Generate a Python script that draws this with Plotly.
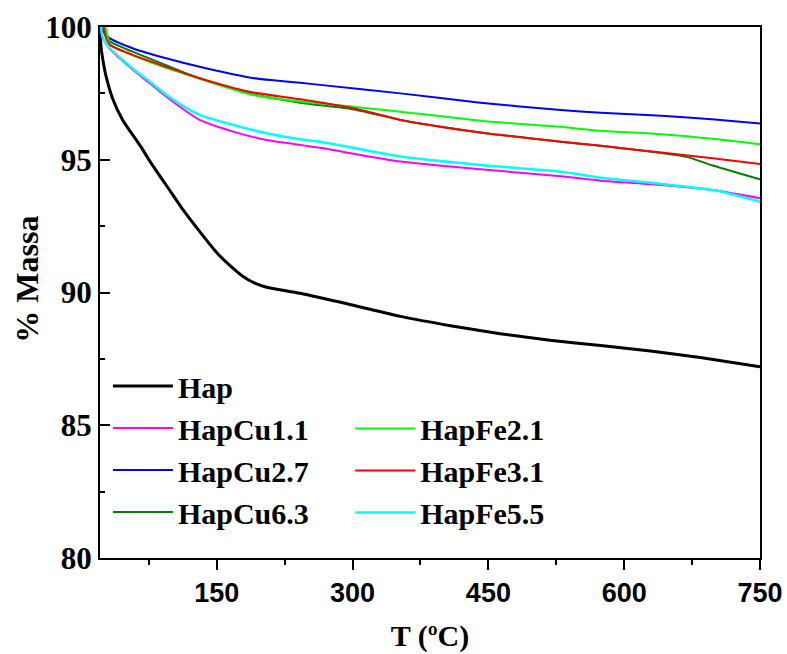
import plotly.graph_objects as go

# ---- data ----
t_hap = [21, 22, 25, 28, 35, 46, 65, 76, 100, 113, 131, 150, 165, 179, 192, 205, 242, 297, 353, 408, 463, 518, 574, 629, 684, 750]
m_hap = [100, 99.3, 98.6, 98.1, 97.3, 96.5, 95.55, 94.95, 93.75, 93.1, 92.3, 91.5, 91.0, 90.6, 90.35, 90.2, 89.97, 89.55, 89.1, 88.75, 88.45, 88.2, 88.0, 87.8, 87.55, 87.2]

t_cu11 = [22, 24, 32, 57, 76, 94, 113, 131, 168, 205, 242, 264, 353, 441, 530, 574, 641, 700, 750]
m_cu11 = [100, 99.6, 99.18, 98.4, 97.88, 97.38, 96.9, 96.5, 96.06, 95.74, 95.56, 95.45, 94.93, 94.64, 94.38, 94.21, 94.05, 93.85, 93.55]

t_cu27 = [22, 25, 32, 57, 94, 131, 186, 210, 242, 264, 353, 441, 530, 574, 641, 700, 750]
m_cu27 = [100, 99.8, 99.57, 99.2, 98.82, 98.5, 98.1, 98.0, 97.9, 97.82, 97.5, 97.15, 96.87, 96.77, 96.66, 96.52, 96.37]

t_cu63 = [26, 28, 32, 57, 94, 131, 186, 242, 300, 353, 441, 530, 574, 641, 670, 696, 750]
m_cu63 = [100, 99.7, 99.45, 99.07, 98.56, 98.07, 97.5, 97.15, 96.9, 96.5, 96.03, 95.68, 95.53, 95.25, 95.1, 94.8, 94.26]

t_fe21 = [27, 29, 32, 57, 94, 131, 186, 242, 300, 353, 441, 530, 574, 641, 700, 750]
m_fe21 = [100, 99.7, 99.35, 98.93, 98.46, 98.05, 97.47, 97.19, 97.0, 96.81, 96.47, 96.24, 96.09, 95.96, 95.78, 95.58]

t_fe31 = [25, 27, 32, 57, 94, 131, 186, 242, 300, 353, 441, 530, 574, 641, 700, 750]
m_fe31 = [100, 99.65, 99.32, 98.95, 98.5, 98.07, 97.56, 97.28, 96.95, 96.5, 96.03, 95.68, 95.53, 95.27, 95.05, 94.84]

t_fe55 = [22, 24, 32, 57, 76, 94, 113, 131, 168, 205, 242, 264, 353, 441, 530, 574, 641, 700, 750]
m_fe55 = [100, 99.6, 99.2, 98.44, 97.94, 97.45, 97.02, 96.69, 96.31, 96.0, 95.77, 95.68, 95.12, 94.8, 94.55, 94.32, 94.09, 93.85, 93.42]

x_ticks = [150, 300, 450, 600, 750]
x_minor = [75, 225, 375, 525, 675]
y_ticks = [80, 85, 90, 95, 100]
y_minor = [82.5, 87.5, 92.5, 97.5]

series = [
    ("Hap", t_hap, m_hap, "#000000", 3, "legend"),
    ("HapCu1.1", t_cu11, m_cu11, "#FF00FF", 2, "legend"),
    ("HapCu2.7", t_cu27, m_cu27, "#0000FF", 2, "legend"),
    ("HapCu6.3", t_cu63, m_cu63, "#008000", 2, "legend"),
    ("HapFe2.1", t_fe21, m_fe21, "#00FF00", 2, "legend2"),
    ("HapFe3.1", t_fe31, m_fe31, "#FF0000", 2, "legend2"),
    ("HapFe5.5", t_fe55, m_fe55, "#00FFFF", 2.5, "legend2"),
]

fig = go.Figure()
for name, t, m, col, w, lg in series:
    fig.add_trace(go.Scatter(x=t, y=m, mode="lines", name=name,
                             line=dict(color=col, width=w, shape="spline", smoothing=0.6),
                             legend=lg))

serif = "Times New Roman"
sans = "Liberation Sans"

fig.update_layout(
    width=787, height=654,
    margin=dict(l=100, r=27, t=27, b=96),
    paper_bgcolor="white", plot_bgcolor="white",
    font=dict(family=serif, color="black"),
    showlegend=True,
    legend=dict(x=0.012, y=0.373, xanchor="left", yanchor="top",
                font=dict(family=serif, size=30, color="black", weight="bold"),
                bgcolor="rgba(0,0,0,0)", itemwidth=60, tracegroupgap=0),
    legend2=dict(x=0.379, y=0.293, xanchor="left", yanchor="top",
                 font=dict(family=serif, size=30, color="black", weight="bold"),
                 bgcolor="rgba(0,0,0,0)", itemwidth=60, tracegroupgap=0),
    xaxis=dict(range=[21, 750], tickvals=x_ticks, ticks="outside", ticklen=10, tickwidth=2,
               tickcolor="black", showline=True, linewidth=2, linecolor="black", mirror=True,
               showgrid=False, zeroline=False, automargin=False,
               tickfont=dict(family=sans, size=27, color="black", weight="bold"),
               minor=dict(tickvals=x_minor, ticks="outside", ticklen=5, tickwidth=2, tickcolor="black"),
               title=dict(text="T (ºC)", font=dict(family=serif, size=30, color="black", weight="bold"),
                          standoff=18)),
    yaxis=dict(range=[80, 100], tickvals=y_ticks, ticks="inside", ticklen=10, tickwidth=2,
               tickcolor="black", showline=True, linewidth=2, linecolor="black", mirror=True,
               showgrid=False, zeroline=False, automargin=False,
               tickfont=dict(family=serif, size=31, color="black", weight="bold"),
               minor=dict(tickvals=y_minor, ticks="inside", ticklen=5, tickwidth=2, tickcolor="black")),
    annotations=[dict(text="% Massa", xref="paper", yref="paper", x=-0.11, y=0.525,
                      xanchor="center", yanchor="middle", textangle=-90, showarrow=False,
                      font=dict(family=serif, size=32, color="black", weight="bold"))],
)

fig.write_html("out.html")
